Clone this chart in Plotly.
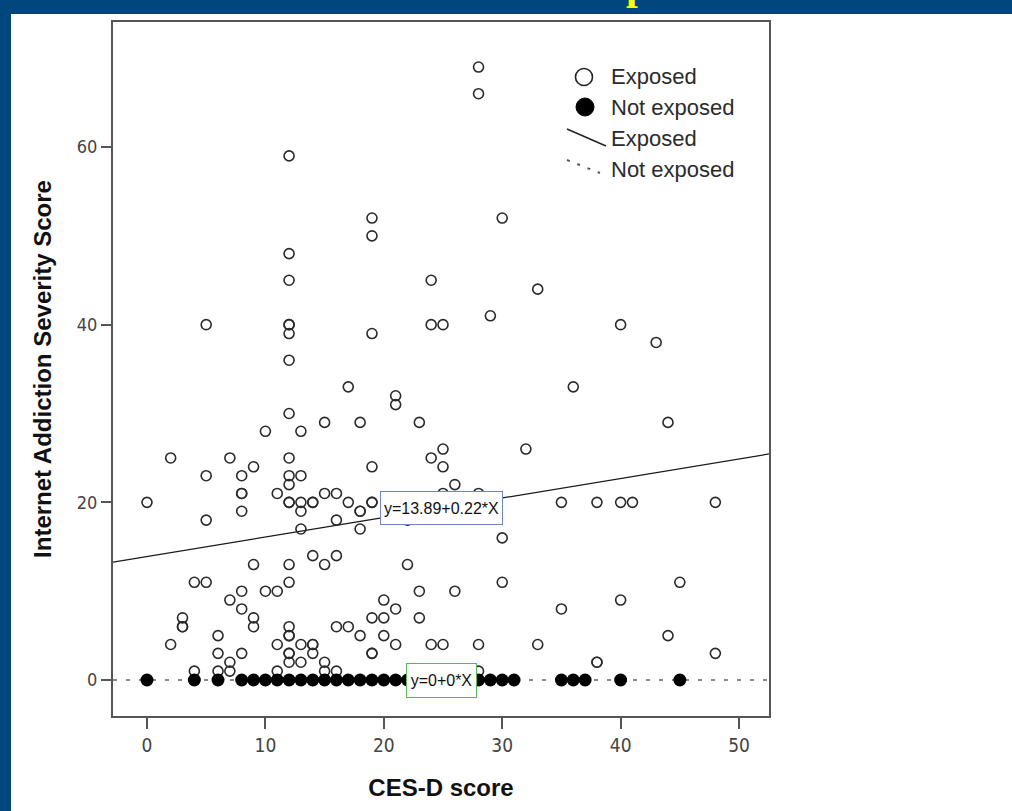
import plotly.graph_objects as go

# ---------------- data ----------------
exposed_x = [28, 28, 12, 19, 30, 19, 12, 12, 24, 33, 29, 5, 12, 12, 24, 25, 40, 12, 19, 43,
             12, 17, 36, 21, 21, 12, 15, 18, 23, 44, 10, 13, 25, 32, 2, 7, 12, 24, 9, 19,
             25, 5, 8, 12, 13, 12, 26,
             8, 8, 11, 15, 16, 25, 28,
             0, 12, 12, 13, 14, 14, 17, 19, 19, 35, 38, 40, 41, 48,
             8, 13, 18, 18,
             5, 16, 22,
             13, 18,
             30,
             14, 16,
             9, 12, 15, 22,
             4, 5, 12, 30, 45,
             8, 10, 11, 23, 26,
             7, 20, 40,
             8, 21, 35,
             3, 9, 19, 20, 23,
             3, 3, 9, 12, 16, 17,
             6, 12, 12, 18, 20, 44,
             2, 11, 13, 14, 14, 21, 24, 25, 28, 33,
             6, 8, 12, 12, 14, 19, 19, 48,
             7, 12, 13, 15, 38, 38,
             4, 6, 7, 11, 15, 16, 28]
exposed_y = [69, 66, 59, 52, 52, 50, 48, 45, 45, 44, 41, 40, 40, 40, 40, 40, 40, 39, 39, 38,
             36, 33, 33, 32, 31, 30, 29, 29, 29, 29, 28, 28, 26, 26, 25, 25, 25, 25, 24, 24,
             24, 23, 23, 23, 23, 22, 22,
             21, 21, 21, 21, 21, 21, 21,
             20, 20, 20, 20, 20, 20, 20, 20, 20, 20, 20, 20, 20, 20,
             19, 19, 19, 19,
             18, 18, 18,
             17, 17,
             16,
             14, 14,
             13, 13, 13, 13,
             11, 11, 11, 11, 11,
             10, 10, 10, 10, 10,
             9, 9, 9,
             8, 8, 8,
             7, 7, 7, 7, 7,
             6, 6, 6, 6, 6, 6,
             5, 5, 5, 5, 5, 5,
             4, 4, 4, 4, 4, 4, 4, 4, 4, 4,
             3, 3, 3, 3, 3, 3, 3, 3,
             2, 2, 2, 2, 2, 2,
             1, 1, 1, 1, 1, 1, 1]

not_exposed_x = [0, 4, 6, 8, 9, 10, 11, 12, 13, 14, 15, 16, 17, 18, 19, 20, 21, 22,
                 23, 24, 25, 26, 27, 28, 29, 30, 31, 35, 36, 37, 40, 45]
not_exposed_y = [0] * len(not_exposed_x)

fit_exposed = (13.89, 0.22)       # intercept, slope
fit_not_exposed = (0.0, 0.0)
label_x = 24.9                    # CES-D value where the fit labels sit

x_ticks = [0, 10, 20, 30, 40, 50]
y_ticks = [0, 20, 40, 60]
x_range = [-2.87, 52.53]
y_range = [-4.05, 74.07]

legend_labels = ["Exposed", "Not exposed", "Exposed", "Not exposed"]

# ---------------- layout geometry ----------------
W, H = 1012, 811
ML, MR, MT, MB = 113, 243, 22, 95
PW, PH = W - ML - MR, H - MT - MB


def px(xp):
    return (xp - ML) / PW


def py(yp):
    return (H - MB - yp) / PH


fig = go.Figure()

# fit lines
for (a, b), style in [(fit_exposed, dict(color="#1a1a1a", width=1.3)),
                      (fit_not_exposed, dict(color="#8a8a8a", width=2, dash="4px,9px"))]:
    xs = list(x_range)
    fig.add_trace(go.Scatter(x=xs, y=[a + b * v for v in xs], mode="lines",
                             line=style, showlegend=False, hoverinfo="skip"))

fig.add_trace(go.Scatter(
    x=exposed_x, y=exposed_y, mode="markers", name="Exposed", showlegend=False,
    marker=dict(symbol="circle-open", size=10, color="#2a2a2a", line=dict(width=1.6, color="#2a2a2a"))))
fig.add_trace(go.Scatter(
    x=not_exposed_x, y=not_exposed_y, mode="markers", name="Not exposed", showlegend=False,
    marker=dict(symbol="circle", size=13, color="#000000", line=dict(width=0))))

box_font = dict(family="Liberation Sans, Arial, sans-serif", size=16, color="#111111")
a, b = fit_exposed
fig.add_annotation(x=label_x, y=a + b * label_x, xref="x", yref="y",
                   text="y=%.2f+%.2f*X" % (a, b), showarrow=False,
                   font=box_font, bgcolor="white", bordercolor="#6f86c8", borderwidth=1,
                   borderpad=2, width=117, height=28)
a0, b0 = fit_not_exposed
fig.add_annotation(x=label_x, y=a0 + b0 * label_x, xref="x", yref="y",
                   text="y=%d+%d*X" % (a0, b0), showarrow=False,
                   font=box_font, bgcolor="white", bordercolor="#55b85a", borderwidth=1,
                   borderpad=2, width=65, height=29)

# ---------------- custom legend ----------------
shapes = []
leg_font = dict(family="Liberation Sans, Arial, sans-serif", size=22, color="#2b2b2b")
rows = [77, 107, 139, 170]
shapes.append(dict(type="circle", xref="paper", yref="paper",
                   x0=px(575.5), x1=px(592.5), y0=py(85.5), y1=py(68.5),
                   line=dict(color="#222222", width=1.6), fillcolor="white"))
shapes.append(dict(type="circle", xref="paper", yref="paper",
                   x0=px(576), x1=px(594), y0=py(116), y1=py(98),
                   line=dict(color="#000000", width=1), fillcolor="#000000"))
shapes.append(dict(type="line", xref="paper", yref="paper",
                   x0=px(567), y0=py(129), x1=px(606), y1=py(146),
                   line=dict(color="#222222", width=1.5)))
shapes.append(dict(type="line", xref="paper", yref="paper",
                   x0=px(567), y0=py(160), x1=px(600), y1=py(173),
                   line=dict(color="#555555", width=2, dash="3px,8px")))
for lab, r in zip(legend_labels, rows):
    fig.add_annotation(x=px(609), y=py(r), xref="paper", yref="paper", text=lab,
                       showarrow=False, xanchor="left", yanchor="middle", font=leg_font)

# slide background bands
shapes.append(dict(type="rect", xref="paper", yref="paper", layer="below",
                   x0=px(-5), x1=px(11), y0=py(H + 5), y1=py(-5),
                   fillcolor="#02467e", line=dict(width=0)))
shapes.append(dict(type="rect", xref="paper", yref="paper", layer="below",
                   x0=px(-5), x1=px(W + 5), y0=py(14), y1=py(-5),
                   fillcolor="#02467e", line=dict(width=0)))

# cut-off slide title glyph
fig.add_annotation(x=px(637), y=py(10), xref="paper", yref="paper", text="<b>p</b>",
                   showarrow=False, xanchor="center", yanchor="bottom",
                   font=dict(family="Liberation Serif, serif", size=42, color="#ffff00"))

axis_common = dict(showline=True, mirror=True, linecolor="#555555", linewidth=2,
                   showgrid=False, zeroline=False, ticks="outside", tickcolor="#555555",
                   tickwidth=1.5)
tick_family = "Liberation Sans Narrow, DejaVu Sans Condensed, sans-serif"

fig.update_layout(
    width=W, height=H,
    margin=dict(l=ML, r=MR, t=MT, b=MB, autoexpand=False),
    paper_bgcolor="white", plot_bgcolor="white",
    shapes=shapes,
    xaxis=dict(range=x_range, tickvals=x_ticks, ticklen=11, **axis_common,
               tickfont=dict(family=tick_family, size=19, color="#444444"),
               title=dict(text="<b>CES-D score</b>", standoff=24,
                          font=dict(family="Liberation Sans, Arial, sans-serif", size=24,
                                    color="#111111"))),
    yaxis=dict(range=y_range, tickvals=y_ticks, ticklen=10, **axis_common,
               tickfont=dict(family=tick_family, size=18, color="#444444"),
               title=dict(text="<b>Internet Addiction Severity Score</b>", standoff=18,
                          font=dict(family="Liberation Sans, Arial, sans-serif", size=24,
                                    color="#111111"))),
)

fig.write_html("out.html", config={"displayModeBar": False},
               post_script="document.body.style.margin='0';")
